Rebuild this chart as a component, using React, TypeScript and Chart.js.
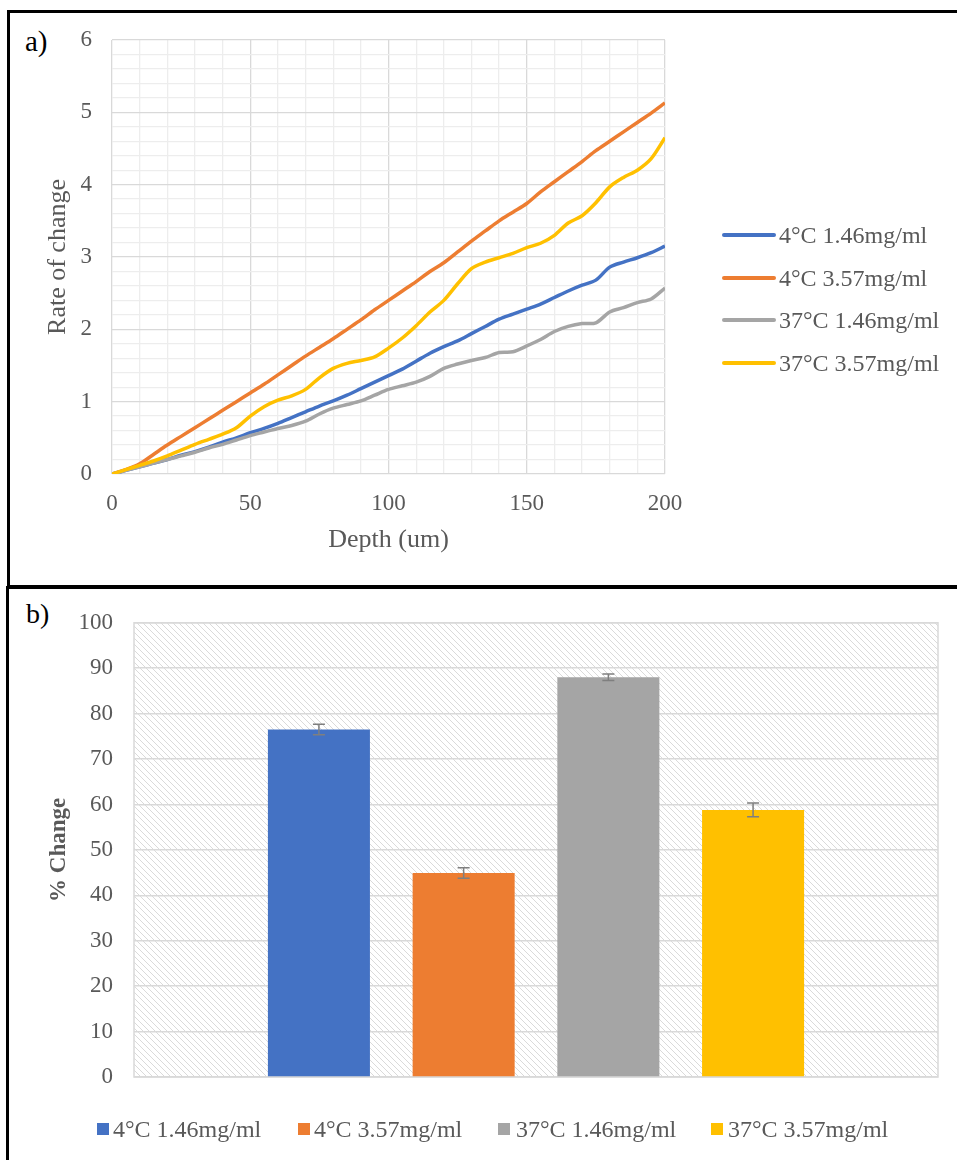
import React, { useEffect, useRef } from 'react';
import { Chart, registerables } from 'chart.js';

Chart.register(...registerables);

const FONT = "'Liberation Serif', 'Times New Roman', serif";

// ---------- Panel a) data ----------
const depths = [0, 5, 10, 15, 20, 25, 30, 35, 40, 45, 50, 55, 60, 65, 70, 75, 80, 85, 90, 95, 100,
  105, 110, 115, 120, 125, 130, 135, 140, 145, 150, 155, 160, 165, 170, 175, 180, 185, 190, 195, 200];

const rate4C146 = [0, 0.05, 0.1, 0.15, 0.2, 0.26, 0.31, 0.37, 0.44, 0.5, 0.57, 0.63, 0.7, 0.78, 0.86, 0.94,
  1.01, 1.09, 1.18, 1.27, 1.36, 1.45, 1.56, 1.67, 1.76, 1.84, 1.94, 2.04, 2.14, 2.21, 2.28, 2.35, 2.44,
  2.53, 2.61, 2.68, 2.86, 2.93, 2.99, 3.06, 3.15];

const rate4C357 = [0, 0.06, 0.14, 0.27, 0.4, 0.52, 0.64, 0.76, 0.88, 1.0, 1.12, 1.24, 1.37, 1.5, 1.63,
  1.75, 1.87, 2.0, 2.13, 2.27, 2.4, 2.53, 2.66, 2.8, 2.92, 3.07, 3.22, 3.36, 3.5, 3.62, 3.74, 3.9, 4.04,
  4.18, 4.32, 4.47, 4.6, 4.73, 4.86, 4.99, 5.13];

const rate37C146 = [0, 0.05, 0.1, 0.15, 0.2, 0.25, 0.3, 0.36, 0.41, 0.47, 0.53, 0.58, 0.63, 0.67, 0.73,
  0.83, 0.91, 0.96, 1.01, 1.09, 1.17, 1.22, 1.27, 1.35, 1.46, 1.52, 1.57, 1.61, 1.68, 1.69, 1.77, 1.86,
  1.97, 2.04, 2.08, 2.09, 2.24, 2.3, 2.37, 2.42, 2.57];

const rate37C357 = [0, 0.06, 0.12, 0.18, 0.25, 0.33, 0.41, 0.48, 0.55, 0.64, 0.8, 0.93, 1.02, 1.08, 1.17,
  1.33, 1.46, 1.53, 1.57, 1.62, 1.74, 1.88, 2.05, 2.24, 2.4, 2.63, 2.84, 2.93, 2.99, 3.05, 3.13, 3.19,
  3.3, 3.47, 3.57, 3.75, 3.97, 4.1, 4.2, 4.36, 4.65];

const seriesLabels = ['4°C 1.46mg/ml', '4°C 3.57mg/ml', '37°C 1.46mg/ml', '37°C 3.57mg/ml'];
const seriesColors = ['#4472C4', '#ED7D31', '#A5A5A5', '#FFC000'];
const lineSeries = [rate4C146, rate4C357, rate37C146, rate37C357];

// ---------- Panel b) data ----------
const barCategories = [''];
const barValues = [76.5, 44.9, 88.0, 58.8];
const barErrors = [1.15, 1.15, 0.7, 1.5];

// layout constants (positions, not data)
const legendARows = [235, 277.5, 319.5, 362.5];
const legendBX = [{ sq: 97, tx: 113 }, { sq: 298, tx: 314 }, { sq: 498, tx: 516 }, { sq: 711, tx: 728 }];

const isMajor = (v: number, step: number) => Math.abs(v / step - Math.round(v / step)) < 1e-6;

const hatchPlugin = {
  id: 'hatchBg',
  beforeDraw(chart: any) {
    const { ctx, chartArea } = chart;
    const pc = document.createElement('canvas');
    pc.width = 6;
    pc.height = 6;
    const p = pc.getContext('2d')!;
    p.fillStyle = '#ffffff';
    p.fillRect(0, 0, 6, 6);
    p.strokeStyle = '#dadada';
    p.lineWidth = 1;
    for (const k of [-6, 0, 6]) {
      p.beginPath();
      p.moveTo(k, 0);
      p.lineTo(k + 6, 6);
      p.stroke();
    }
    const pattern = ctx.createPattern(pc, 'repeat');
    ctx.save();
    ctx.fillStyle = pattern;
    ctx.fillRect(chartArea.left, chartArea.top, chartArea.right - chartArea.left, chartArea.bottom - chartArea.top);
    ctx.restore();
  },
  beforeDatasetsDraw(chart: any) {
    const { ctx, chartArea } = chart;
    ctx.save();
    ctx.strokeStyle = '#d9d9d9';
    ctx.lineWidth = 1.5;
    ctx.strokeRect(chartArea.left, chartArea.top, chartArea.right - chartArea.left, chartArea.bottom - chartArea.top);
    ctx.restore();
  },
};

const errorBarPlugin = {
  id: 'errorBars',
  afterDatasetsDraw(chart: any) {
    const { ctx } = chart;
    const yScale = chart.scales.y;
    chart.data.datasets.forEach((ds: any, i: number) => {
      const meta = chart.getDatasetMeta(i);
      const bar = meta.data[0];
      if (!bar) return;
      const v = ds.data[0];
      const e = barErrors[i];
      const x = bar.x;
      const yt = yScale.getPixelForValue(v + e);
      const yb = yScale.getPixelForValue(v - e);
      ctx.save();
      ctx.strokeStyle = '#7f7f7f';
      ctx.lineWidth = 1.5;
      ctx.beginPath();
      ctx.moveTo(x, yt);
      ctx.lineTo(x, yb);
      ctx.moveTo(x - 6, yt);
      ctx.lineTo(x + 6, yt);
      ctx.moveTo(x - 6, yb);
      ctx.lineTo(x + 6, yb);
      ctx.stroke();
      ctx.restore();
    });
  },
};

function LineChart() {
  const ref = useRef<HTMLCanvasElement | null>(null);
  useEffect(() => {
    if (!ref.current) return;
    const chart = new Chart(ref.current, {
      type: 'line',
      data: {
        datasets: lineSeries.map((s, i) => ({
          label: seriesLabels[i],
          data: depths.map((d, j) => ({ x: d, y: s[j] })),
          borderColor: seriesColors[i],
          backgroundColor: seriesColors[i],
          borderWidth: 3.5,
          pointRadius: 0,
          tension: 0.3,
          fill: false,
          order: 3 - i,
        })),
      },
      options: {
        animation: false,
        responsive: false,
        maintainAspectRatio: false,
        layout: { padding: { left: 0, top: 40, right: 292, bottom: 0 } },
        plugins: { legend: { display: false }, tooltip: { enabled: false } },
        scales: {
          x: {
            type: 'linear',
            min: 0,
            max: 200,
            afterFit: (s: any) => { s.height = 114; },
            ticks: {
              stepSize: 10,
              autoSkip: false,
              maxRotation: 0,
              padding: 16,
              color: '#595959',
              font: { family: FONT, size: 23 },
              callback: (v: any) => (isMajor(Number(v), 50) ? String(v) : ''),
            },
            grid: {
              drawTicks: false,
              color: (c: any) => (c.tick && isMajor(c.tick.value, 50) ? '#d9d9d9' : '#ededed'),
              lineWidth: 1.3,
            },
            border: { display: false },
            title: {
              display: true,
              text: 'Depth (um)',
              color: '#595959',
              font: { family: FONT, size: 26 },
              padding: { top: 0, bottom: 32 },
            },
          },
          y: {
            min: 0,
            max: 6,
            afterFit: (s: any) => { s.width = 112; },
            ticks: {
              stepSize: 0.2,
              autoSkip: false,
              padding: 20,
              color: '#595959',
              font: { family: FONT, size: 23 },
              callback: (v: any) => (isMajor(Number(v), 1) ? String(Math.round(Number(v))) : ''),
            },
            grid: {
              drawTicks: false,
              color: (c: any) => (c.tick && isMajor(c.tick.value, 1) ? '#d9d9d9' : '#ededed'),
              lineWidth: 1.3,
            },
            border: { display: false },
            title: {
              display: true,
              text: 'Rate of change',
              color: '#595959',
              font: { family: FONT, size: 26 },
              padding: { top: 43, bottom: 0 },
            },
          },
        },
      },
    } as any);
    return () => chart.destroy();
  }, []);
  return (
    <canvas
      ref={ref}
      width={957}
      height={588}
      style={{ position: 'absolute', left: 0, top: 0, width: 957, height: 588 }}
    />
  );
}

function BarChart() {
  const ref = useRef<HTMLCanvasElement | null>(null);
  useEffect(() => {
    if (!ref.current) return;
    const chart = new Chart(ref.current, {
      type: 'bar',
      data: {
        labels: barCategories,
        datasets: barValues.map((v, i) => ({
          label: seriesLabels[i],
          data: [v],
          backgroundColor: seriesColors[i],
          borderWidth: 0,
          categoryPercentage: 0.72,
          barPercentage: 0.705,
        })),
      },
      options: {
        animation: false,
        responsive: false,
        maintainAspectRatio: false,
        layout: { padding: { left: 0, top: 30, right: 19, bottom: 0 } },
        plugins: { legend: { display: false }, tooltip: { enabled: false } },
        scales: {
          x: {
            afterFit: (s: any) => { s.height = 83; },
            grid: { display: false },
            ticks: { display: false },
            border: { display: false },
          },
          y: {
            min: 0,
            max: 100,
            afterFit: (s: any) => { s.width = 134; },
            ticks: {
              stepSize: 10,
              padding: 21,
              color: '#595959',
              font: { family: FONT, size: 23 },
            },
            grid: { drawTicks: false, color: '#d9d9d9', lineWidth: 1.5 },
            border: { display: false },
            title: {
              display: true,
              text: '% Change',
              color: '#595959',
              font: { family: FONT, size: 23, weight: 'bold' },
              padding: { top: 45, bottom: 0 },
            },
          },
        },
      },
      plugins: [hatchPlugin, errorBarPlugin],
    } as any);
    return () => chart.destroy();
  }, []);
  return (
    <canvas
      ref={ref}
      width={957}
      height={572}
      style={{ position: 'absolute', left: 0, top: 588, width: 957, height: 572 }}
    />
  );
}

export default function App() {
  const textStyle: React.CSSProperties = {
    fontFamily: FONT,
    fontSize: 24,
    lineHeight: '24px',
    color: '#595959',
    whiteSpace: 'nowrap',
  };
  return (
    <div
      style={{
        position: 'absolute',
        left: 0,
        top: 0,
        width: 957,
        height: 1160,
        overflow: 'hidden',
        background: '#ffffff',
      }}
    >
      {/* panel borders */}
      <div
        style={{
          position: 'absolute',
          left: 7,
          top: 10,
          width: 1000,
          height: 578,
          boxSizing: 'border-box',
          border: '3px solid #000',
        }}
      />
      <div
        style={{
          position: 'absolute',
          left: 6,
          top: 586,
          width: 1000,
          height: 700,
          boxSizing: 'border-box',
          border: '3px solid #000',
        }}
      />
      <div style={{ position: 'absolute', left: 25, top: 27, fontFamily: FONT, fontSize: 29, lineHeight: '29px', color: '#000' }}>a)</div>
      <div style={{ position: 'absolute', left: 26, top: 600, fontFamily: FONT, fontSize: 28, lineHeight: '28px', color: '#000' }}>b)</div>

      <LineChart />
      <BarChart />

      {/* legend a */}
      {seriesLabels.map((l, i) => (
        <div
          key={'la' + i}
          style={{ position: 'absolute', left: 722, top: legendARows[i] - 12, height: 24, display: 'flex', alignItems: 'center' }}
        >
          <div style={{ width: 54, height: 4, borderRadius: 2, background: seriesColors[i] }} />
          <div style={{ ...textStyle, marginLeft: 3 }}>{l}</div>
        </div>
      ))}

      {/* legend b */}
      {seriesLabels.map((l, i) => (
        <React.Fragment key={'lb' + i}>
          <div style={{ position: 'absolute', left: legendBX[i].sq, top: 1123, width: 12, height: 12, background: seriesColors[i] }} />
          <div style={{ ...textStyle, position: 'absolute', left: legendBX[i].tx, top: 1117 }}>{l}</div>
        </React.Fragment>
      ))}
    </div>
  );
}
